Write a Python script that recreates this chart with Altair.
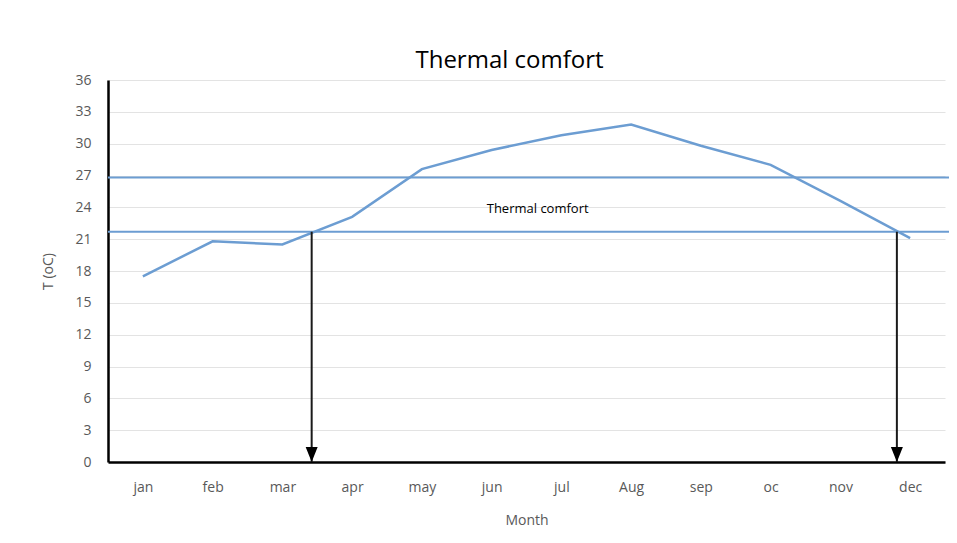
import altair as alt
import pandas as pd

months = ["jan", "feb", "mar", "apr", "may", "jun", "jul", "Aug", "sep", "oc", "nov", "dec"]
temps = [17.5, 20.8, 20.5, 23.1, 27.6, 29.4, 30.8, 31.8, 29.8, 28.0, 24.6, 21.1]
comfort_bounds = [21.7, 26.8]
arrow_x = [2.42, 10.81]
y_ticks = list(range(0, 37, 3))
annotation = {"x": 5.66, "y": 23.8, "text": "Thermal comfort"}

line_df = pd.DataFrame({"idx": list(range(len(months))), "T": temps})
bounds_df = pd.DataFrame({"y": comfort_bounds, "x0": [-0.5, -0.5], "x1": [12.5, 12.5]})
arrows_df = pd.DataFrame({"x": arrow_x, "y0": [comfort_bounds[0]] * 2, "y1": [0.0, 0.0]})
ann_df = pd.DataFrame([annotation])

label_expr = "[" + ",".join("'%s'" % m for m in months) + "][datum.value]"

xscale = alt.Scale(domain=[-0.5, 11.5], nice=False, zero=False)
yscale = alt.Scale(domain=[0, 36], nice=False)

blue = "#6c9dd2"

x_axis = alt.Axis(
    values=list(range(len(months))), labelExpr=label_expr, grid=False, ticks=False,
    labelOverlap=False,
    domainColor="black", domainWidth=2.5, labelColor="#595959", labelFont="Open Sans",
    labelFontSize=14, labelPadding=18, title="Month", titleColor="#595959",
    titleFont="Open Sans", titleFontSize=14, titleFontWeight="normal", titlePadding=19,
)
y_axis = alt.Axis(
    values=y_ticks, grid=True, gridColor="#e3e3e3", gridWidth=1, ticks=False,
    labelOverlap=False,
    domainColor="black", domainWidth=2.5, labelColor="#595959", labelFont="Open Sans",
    labelFontSize=14, labelPadding=17, title="T (oC)", titleColor="#595959",
    titleFont="Open Sans", titleFontSize=14, titleFontWeight="normal", titlePadding=19,
)

bounds = alt.Chart(bounds_df).mark_rule(color=blue, strokeWidth=2).encode(
    x=alt.X("x0:Q", scale=xscale, axis=x_axis), x2="x1:Q",
    y=alt.Y("y:Q", scale=yscale, axis=y_axis)
)

line = alt.Chart(line_df).mark_line(color=blue, strokeWidth=2.5).encode(
    x=alt.X("idx:Q", scale=xscale, axis=x_axis),
    y=alt.Y("T:Q", scale=yscale, axis=y_axis),
)

arrows = alt.Chart(arrows_df).mark_rule(color="#1a1a1a", strokeWidth=2).encode(
    x=alt.X("x:Q", scale=xscale, axis=x_axis),
    y=alt.Y("y0:Q", scale=yscale, axis=y_axis), y2="y1:Q"
)

heads = alt.Chart(arrows_df).mark_point(
    shape="M-0.4,-1L0.4,-1L0,0Z", filled=True, color="black", opacity=1, size=900
).encode(x=alt.X("x:Q", scale=xscale, axis=x_axis), y=alt.Y("y1:Q", scale=yscale, axis=y_axis))

ann = alt.Chart(ann_df).mark_text(font="Open Sans", fontSize=13, color="black").encode(
    x=alt.X("x:Q", scale=xscale, axis=x_axis), y=alt.Y("y:Q", scale=yscale, axis=y_axis),
    text="text:N"
)

chart = alt.layer(bounds, line, arrows, heads, ann).properties(
    width=837, height=382,
    title=alt.TitleParams("Thermal comfort", font="Open Sans", fontSize=24, fontWeight="normal",
                          color="black", anchor="middle", dx=-17, offset=0),
    autosize=alt.AutoSizeParams(type="none"),
    padding={"left": 100, "top": 72, "right": 4, "bottom": 70},
).configure_view(stroke=None)

chart.save("out.html", embed_options={"renderer": "svg", "actions": False})
